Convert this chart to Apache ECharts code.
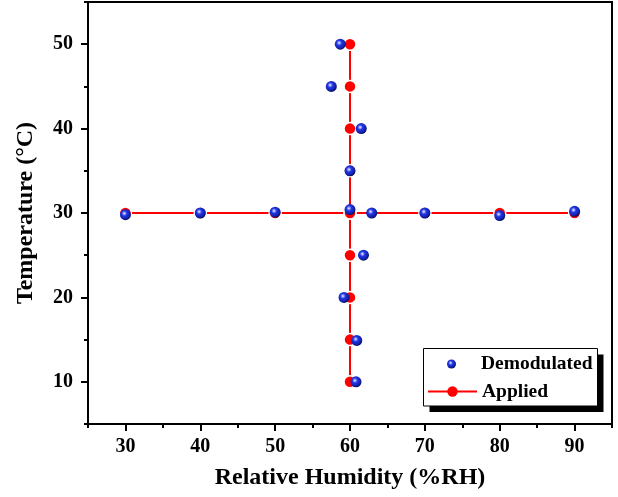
<!DOCTYPE html>
<html>
<head>
<meta charset="utf-8">
<script src="https://cdn.jsdelivr.net/npm/echarts@6/dist/echarts.min.js"></script>
<style>
  html, body { margin: 0; padding: 0; background: #fff; }
  #chart { width: 618px; height: 497px; }
</style>
</head>
<body>
<div id="chart"></div>
<script>
// humidity sweep at 30 °C, then temperature sweep at 60 %RH
const appliedRH = [30, 40, 50, 60, 70, 80, 90]
const appliedRHTemp = [30, 30, 30, 30, 30, 30, 30]
const appliedT = [10, 15, 20, 25, 30, 35, 40, 45, 50]
const appliedTRH = [60, 60, 60, 60, 60, 60, 60, 60, 60]

const demodRH = [30.0, 40.0, 50.0, 60.0, 62.9, 70.0, 80.0, 90.0, 60.8, 60.9, 59.2, 61.8, 60.0, 61.5, 57.5, 58.7]
const demodT = [29.8, 30.0, 30.1, 30.4, 30.0, 30.0, 29.7, 30.2, 10.0, 14.9, 20.0, 25.0, 35.0, 40.0, 45.0, 50.0]

const xTicks = [30, 40, 50, 60, 70, 80, 90]
const xMinor = [25, 35, 45, 55, 65, 75, 85, 95]
const yTicks = [10, 20, 30, 40, 50]
const yMinor = [5, 15, 25, 35, 45, 55]

const FONT = '"Liberation Serif", "Times New Roman", serif'

const chart = echarts.init(document.getElementById('chart'))

const sphere = {
  type: 'radial', x: 0.4, y: 0.38, r: 0.62,
  colorStops: [
    { offset: 0, color: '#ffffff' },
    { offset: 0.14, color: '#9aa6ff' },
    { offset: 0.38, color: '#2236e0' },
    { offset: 0.78, color: '#1220b2' },
    { offset: 1, color: '#06105e' }
  ]
}

function axisBase(min, max) {
  return {
    type: 'value', min, max,
    axisLine: { show: true, lineStyle: { color: '#000', width: 2 } },
    splitLine: { show: false }
  }
}

const legendText = { fontFamily: FONT, fontWeight: 'bold', fontSize: 19.5, color: '#000', lineHeight: 20 }

chart.setOption({
  animation: false,
  grid: {
    left: 88, right: 6, top: 2, bottom: 73,
    show: true, borderColor: '#000', borderWidth: 2
  },
  // legend frame with Origin-style drop shadow
  graphic: [
    {
      type: 'rect', z: 3,
      shape: { x: 429.5, y: 354.5, width: 174, height: 57.5 },
      style: { fill: '#000' }
    },
    {
      type: 'rect', z: 4,
      shape: { x: 423.5, y: 348.5, width: 174, height: 57.5 },
      style: { fill: '#fff', stroke: '#000', lineWidth: 1 }
    }
  ],
  legend: [
    {
      id: 'lgDemod',
      orient: 'vertical', align: 'left', left: 447, top: 354, padding: 0, z: 5,
      data: [{ name: 'Demodulated', icon: 'circle' }],
      itemWidth: 49, itemHeight: 9,
      textStyle: legendText
    },
    {
      id: 'lgApplied',
      orient: 'vertical', align: 'left', left: 427, top: 381.5, padding: 0, z: 5,
      data: ['Applied'],
      itemWidth: 49, itemHeight: 13,
      itemStyle: { borderWidth: 0 },
      textStyle: legendText
    }
  ],
  xAxis: [
    Object.assign(axisBase(25, 95), {
      name: 'Relative Humidity (%RH)',
      nameLocation: 'middle', nameGap: 42,
      nameTextStyle: { fontFamily: FONT, fontWeight: 'bold', fontSize: 24, color: '#000' },
      axisTick: { show: true, inside: false, length: 7, lineStyle: { color: '#000', width: 2 }, customValues: xTicks },
      axisLabel: { fontFamily: FONT, fontWeight: 'bold', fontSize: 20, color: '#000', margin: 13, customValues: xTicks }
    }),
    Object.assign(axisBase(25, 95), {
      position: 'bottom',
      axisLine: { show: false },
      axisTick: { show: true, inside: false, length: 4, lineStyle: { color: '#000', width: 2 }, customValues: xMinor },
      axisLabel: { show: false }
    })
  ],
  yAxis: [
    Object.assign(axisBase(5, 55), {
      name: 'Temperature (°C)',
      nameLocation: 'middle', nameGap: 50,
      nameTextStyle: { fontFamily: FONT, fontWeight: 'bold', fontSize: 24, color: '#000' },
      axisTick: { show: true, inside: false, length: 7, lineStyle: { color: '#000', width: 2 }, customValues: yTicks },
      axisLabel: { fontFamily: FONT, fontWeight: 'bold', fontSize: 20, color: '#000', margin: 15, customValues: yTicks }
    }),
    Object.assign(axisBase(5, 55), {
      position: 'left',
      axisLine: { show: false },
      axisTick: { show: true, inside: false, length: 4, lineStyle: { color: '#000', width: 2 }, customValues: yMinor },
      axisLabel: { show: false }
    })
  ],
  series: [
    {
      name: 'Applied', type: 'line',
      data: appliedRH.map((v, i) => [v, appliedRHTemp[i]]),
      symbol: 'circle', symbolSize: 12,
      lineStyle: { color: '#ff0000', width: 2 },
      itemStyle: { color: '#ff0000', borderColor: '#fff', borderWidth: 1.5 },
      z: 2
    },
    {
      name: 'Applied', type: 'line',
      data: appliedTRH.map((v, i) => [v, appliedT[i]]),
      symbol: 'circle', symbolSize: 12,
      lineStyle: { color: '#ff0000', width: 2 },
      itemStyle: { color: '#ff0000', borderColor: '#fff', borderWidth: 1.5 },
      z: 2
    },
    {
      name: 'Demodulated', type: 'scatter',
      data: demodRH.map((v, i) => [v, demodT[i]]),
      symbol: 'circle', symbolSize: 11,
      itemStyle: { color: sphere, opacity: 1 },
      z: 3
    }
  ]
})
</script>
</body>
</html>
